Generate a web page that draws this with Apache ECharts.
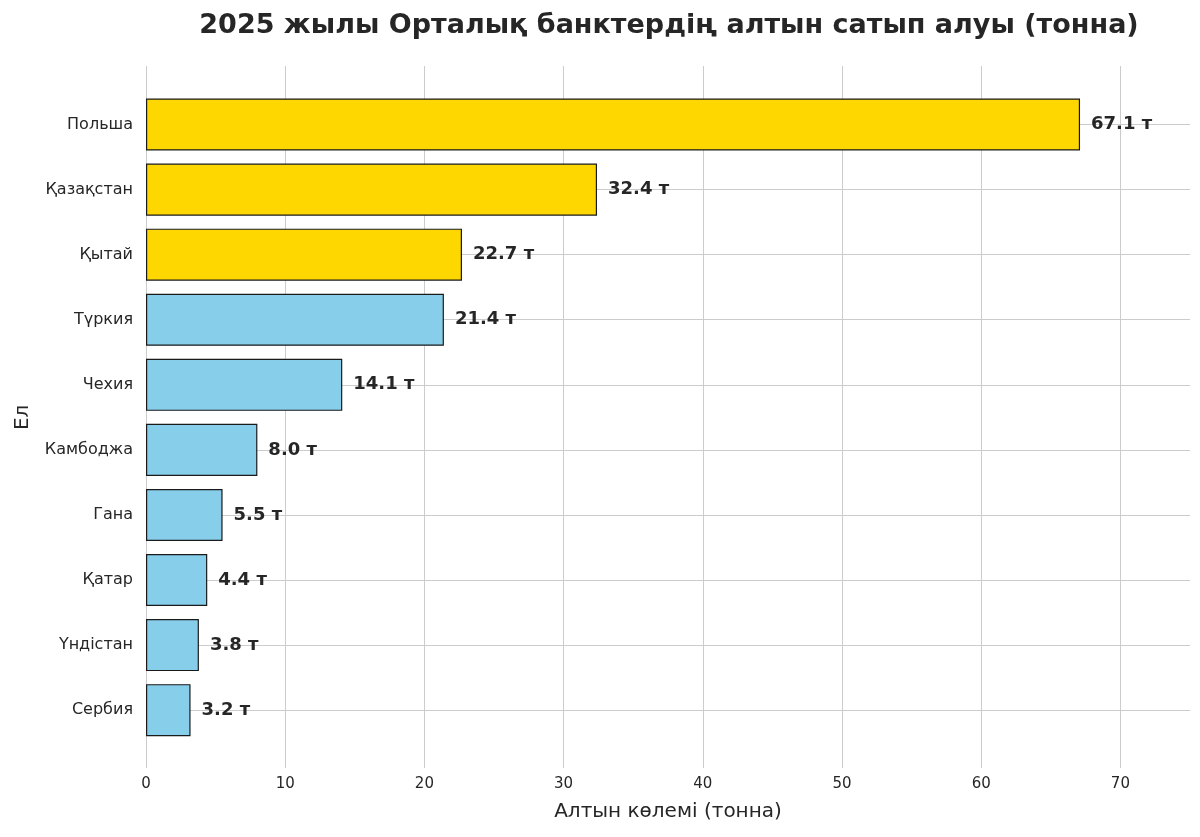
<!DOCTYPE html>
<html>
<head>
<meta charset="utf-8">
<script src="https://cdn.jsdelivr.net/npm/echarts@6/dist/echarts.min.js"></script>
<style>
html,body{margin:0;padding:0;background:#fff;}
#chart{width:1200px;height:837px;}
</style>
</head>
<body>
<div id="chart"></div>
<script>
const countries = ['Польша','Қазақстан','Қытай','Түркия','Чехия','Камбоджа','Гана','Қатар','Үндістан','Сербия'];
const tonnes = [67.1, 32.4, 22.7, 21.4, 14.1, 8.0, 5.5, 4.4, 3.8, 3.2];
const highlighted = ['Польша','Қазақстан','Қытай'];
const xTicks = [0,10,20,30,40,50,60,70];

const FONT = 'DejaVu Sans';
const TXT = '#262626';
const chart = echarts.init(document.getElementById('chart'), null, {renderer:'canvas'});

const option = {
  backgroundColor: '#ffffff',
  textStyle: {fontFamily: FONT},
  animation: false,
  title: {
    text: '2025 жылы Орталық банктердің алтын сатып алуы (тонна)',
    left: 664, top: 7, textAlign: 'center',
    textStyle: {fontFamily: FONT, fontSize: 27, fontWeight: 'bold', color: TXT}
  },
  grid: [
    {left: 146, right: 10, top: 92, bottom: 94.3},
    {left: 146, right: 10, top: 66, bottom: 69}
  ],
  xAxis: [
    {gridIndex: 0, type: 'value', min: 0, max: 75, show: false},
    {gridIndex: 1, type: 'value', min: 0, max: 75, interval: 10,
     axisLine: {show: false}, axisTick: {show: false},
     axisLabel: {fontFamily: FONT, fontSize: 15, color: TXT, margin: 9,
       showMaxLabel: false,
       formatter: v => xTicks.includes(v) ? String(v) : ''},
     splitLine: {show: true, showMaxLine: false, lineStyle: {color: '#cccccc', width: 1}},
     name: 'Алтын көлемі (тонна)', nameLocation: 'middle', nameGap: 34,
     nameTextStyle: {fontFamily: FONT, fontSize: 20, color: TXT}}
  ],
  yAxis: [
    {gridIndex: 0, type: 'category', data: countries, inverse: true,
     axisLine: {show: false}, axisTick: {show: false}, splitLine: {show: false},
     axisLabel: {fontFamily: FONT, fontSize: 16, color: TXT, margin: 13},
     name: 'Ел', nameLocation: 'middle', nameGap: 113, nameRotate: 90,
     nameTextStyle: {fontFamily: FONT, fontSize: 20, color: TXT}},
    {gridIndex: 1, type: 'value', min: 0, max: 1, show: false}
  ],
  series: [
    {
      type: 'line', xAxisIndex: 0, yAxisIndex: 0, data: [], z: 0, silent: true,
      markLine: {
        z: 0, silent: true, symbol: ['none','none'], label: {show: false},
        lineStyle: {color: '#cccccc', width: 1, type: 'solid'},
        data: countries.map(c => ({yAxis: c}))
      }
    },
    {
      type: 'bar', xAxisIndex: 0, yAxisIndex: 0, z: 3,
      barCategoryGap: '20%',
      data: tonnes.map((v, i) => ({
        value: v,
        itemStyle: {color: highlighted.includes(countries[i]) ? '#FFD700' : '#87CEEB'}
      })),
      itemStyle: {borderColor: '#1a1a1a', borderWidth: 1.2},
      label: {
        show: true, position: 'right', distance: 11,
        fontFamily: FONT, fontSize: 18, fontWeight: 'bold', color: TXT,
        formatter: p => p.value.toFixed(1) + ' т'
      }
    }
  ]
};
chart.setOption(option);
</script>
</body>
</html>
